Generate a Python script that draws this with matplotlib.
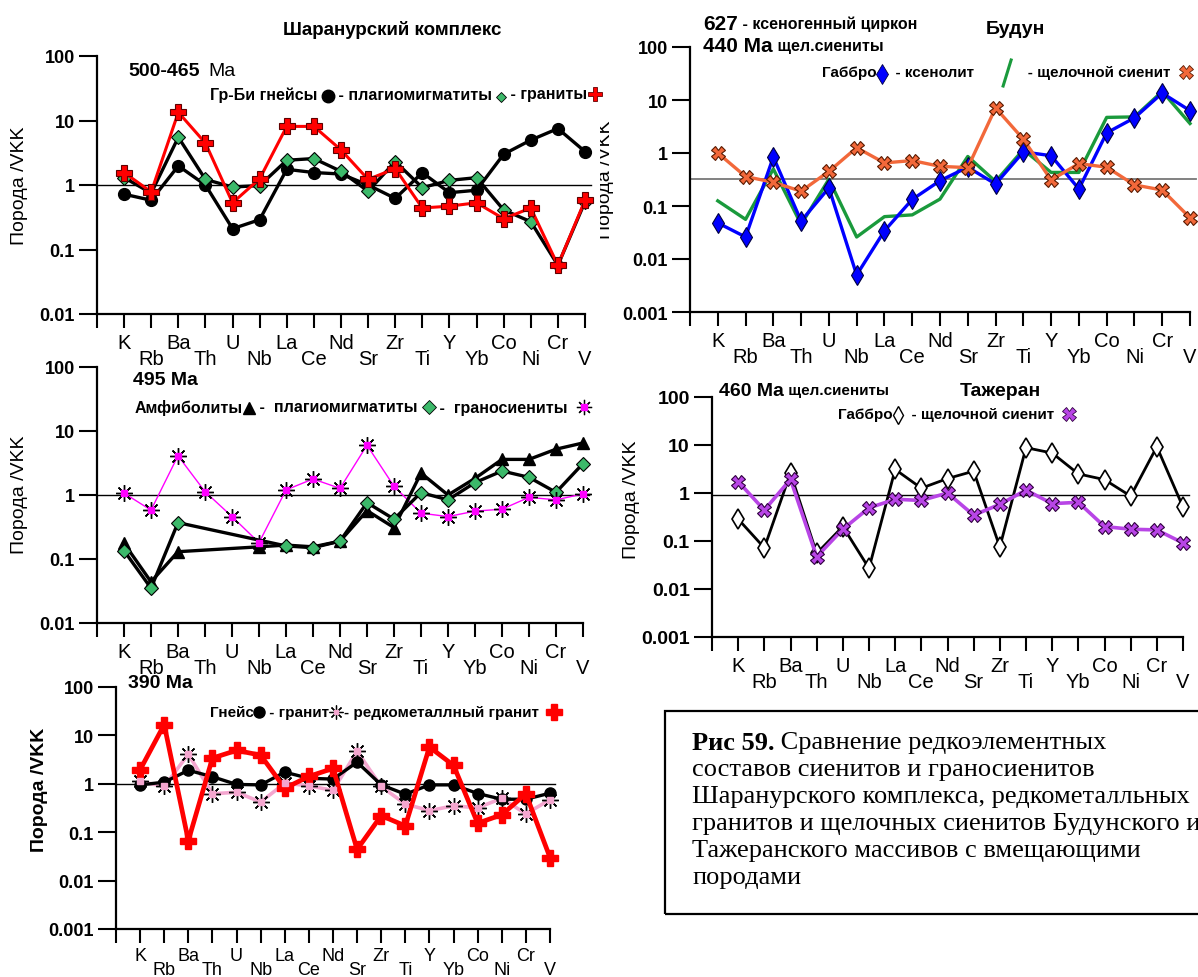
import numpy as np
import matplotlib
matplotlib.use("Agg")
import matplotlib.pyplot as plt
from matplotlib.lines import Line2D
from matplotlib.patches import Rectangle
from matplotlib.transforms import Bbox, TransformedBbox

plt.rcParams["font.family"] = ["Liberation Sans Narrow", "Liberation Sans", "DejaVu Sans"]

W, H = 1198, 978
nan = np.nan

elements = ["K", "Rb", "Ba", "Th", "U", "Nb", "La", "Ce", "Nd", "Sr",
            "Zr", "Ti", "Y", "Yb", "Co", "Ni", "Cr", "V"]

# Шаранурский комплекс, 500-465 Ma
shar_gneiss = [0.72, 0.58, 1.98, 1.0, 0.21, 0.29, 1.75, 1.56, 1.48, 1.0,
               0.62, 1.55, 0.76, 0.83, 3.0, 4.97, 7.5, 3.3]
shar_migm = [1.3, 0.75, 5.5, 1.22, 0.93, 0.98, 2.42, 2.57, 1.63, 0.8,
             2.31, 0.91, 1.18, 1.3, 0.41, 0.27, 0.057, 0.55]
shar_granite = [1.56, 0.78, 13.4, 4.46, 0.53, 1.25, 8.1, 8.1, 3.5, 1.22,
                1.8, 0.44, 0.47, 0.53, 0.30, 0.44, 0.057, 0.58]

# Будун
bud_gabbro = [0.048, 0.026, 0.84, 0.052, 0.22, 0.005, 0.034, 0.133, 0.30, 0.54,
              0.26, 1.05, 0.89, 0.21, 2.4, 4.6, 13.5, 6.3]
bud_xenolith = [0.125, 0.056, 0.5, 0.045, 0.32, 0.026, 0.063, 0.068, 0.135, 0.86,
                0.29, 1.16, 0.43, 0.43, 4.7, 4.8, 14.5, 3.6]
bud_syenite = [1.0, 0.36, 0.28, 0.19, 0.45, 1.26, 0.65, 0.72, 0.56, 0.53,
               7.1, 1.82, 0.31, 0.63, 0.54, 0.25, 0.2, 0.06]
bud_ref = 0.32

# 495 Ma
c_amph = [0.176, 0.044, 0.13, nan, nan, 0.155, 0.165, 0.155, 0.19, 0.57,
          0.31, 2.2, 1.0, 1.82, 3.6, 3.6, 5.2, 6.5]
c_migm = [0.135, 0.035, 0.37, nan, nan, nan, 0.16, 0.15, 0.19, 0.76,
          0.42, 1.09, 0.84, 1.56, 2.37, 1.89, 1.1, 3.1]
c_granosyen = [1.07, 0.58, 4.1, 1.13, 0.46, 0.18, 1.2, 1.78, 1.27, 6.0,
               1.37, 0.52, 0.46, 0.56, 0.6, 0.92, 0.84, 1.04]

# Тажеран
taz_gabbro = [0.286, 0.072, 2.6, 0.055, 0.2, 0.027, 3.1, 1.26, 2.0, 2.85,
              0.075, 8.8, 6.8, 2.5, 1.9, 0.86, 9.2, 0.51]
taz_syenite = [1.73, 0.44, 1.93, 0.047, 0.176, 0.49, 0.74, 0.7, 1.0, 0.345,
               0.58, 1.15, 0.6, 0.64, 0.2, 0.176, 0.17, 0.091]
taz_ref = 0.92

# 390 Ma
e_gneiss = [0.95, 1.08, 1.9, 1.4, 0.97, 0.95, 1.74, 1.3, 1.25, 2.8,
            0.95, 0.61, 0.95, 0.95, 0.63, 0.48, 0.48, 0.64]
e_granite = [1.12, 0.88, 4.1, 0.62, 0.67, 0.42, 1.03, 0.91, 0.73, 4.7,
             0.88, 0.38, 0.28, 0.35, 0.32, 0.5, 0.24, 0.47]
e_raremetal = [1.95, 16.7, 0.067, 3.4, 4.9, 3.9, 0.81, 1.42, 2.08, 0.044,
               0.22, 0.135, 5.76, 2.4, 0.153, 0.23, 0.62, 0.03]
e_ref = 0.97

GREEN = "#3cb96a"
RED = "#ff0000"
ORANGE = "#f2683a"
VIOLET = "#b845e6"
MAGENTA = "#ff00ff"
PINK = "#f4a6cf"

fig = plt.figure(figsize=(W / 100, H / 100), dpi=100)
renderer = fig.canvas.get_renderer()
x = np.arange(len(elements))


def fx(px):
    return px / W


def fy(py):
    return 1 - py / H


def add_panel(left, right, top, bottom, ymin, tick_size=13, el_size=14.5, rows=(14, 25)):
    ax = fig.add_axes([fx(left), fy(bottom), (right - left) / W, (bottom - top) / H])
    ax.set_yscale("log")
    ax.set_ylim(ymin, 100)
    ax.set_xlim(-1, 17)
    for s in ("top", "right"):
        ax.spines[s].set_visible(False)
    for s in ("left", "bottom"):
        ax.spines[s].set_linewidth(1.6)
    decades = [10.0 ** k for k in range(int(round(np.log10(ymin))), 3)]
    ax.set_yticks(decades)
    ax.set_yticklabels([("%g" % d) for d in decades], fontweight="bold",
                       fontsize=tick_size, family="Liberation Sans")
    ax.yaxis.set_minor_locator(matplotlib.ticker.NullLocator())
    ax.tick_params(axis="y", length=13, width=1.5, pad=3)
    ax.set_xticks(np.arange(-1, 18))
    ax.set_xticklabels([])
    ax.tick_params(axis="x", length=10, width=1.5)
    # element names in two staggered rows
    for i, el in enumerate(elements):
        dy = rows[i % 2]
        ax.annotate(el, xy=(i, 0), xycoords=("data", "axes fraction"),
                    xytext=(0, -dy), textcoords="offset points",
                    ha="center", va="top", fontsize=el_size)
    return ax


def ref_line(ax, val, color="black", lw=1.0):
    ax.axhline(val, xmin=0, xmax=1.012, color=color, lw=lw, clip_on=False, zorder=1)


def legend_row(x0, y0, items, size=11):
    """Text pieces and marker symbols laid out left to right (pixel coords)."""
    cur = x0
    for it in items:
        if isinstance(it, (str, tuple)):
            txt, sz = (it, size) if isinstance(it, str) else it
            t = fig.text(fx(cur), fy(y0), txt, fontsize=sz, fontweight="bold",
                         ha="left", va="center")
            cur += t.get_window_extent(renderer).width
        else:
            kw = dict(it)
            w = kw.pop("w", 14)
            dy = kw.pop("dy", 0)
            over = kw.pop("overlay", None)
            if kw.pop("slash", False):
                fig.add_artist(Line2D([fx(cur + 4), fx(cur + 12)], [fy(y0 + 14), fy(y0 - 12)],
                                      transform=fig.transFigure, color=kw["color"], lw=2.2))
            else:
                fig.add_artist(Line2D([fx(cur + w / 2)], [fy(y0 + dy)],
                                      transform=fig.transFigure, linestyle="none", **kw))
                if over:
                    fig.add_artist(Line2D([fx(cur + w / 2)], [fy(y0 + dy)],
                                          transform=fig.transFigure, linestyle="none", **over))
            cur += w


def star(ax, vals, face, size=12):
    ax.plot(x, vals, linestyle="none", marker=(8, 2, 0), ms=size, mec="black",
            mew=1.0, clip_on=False, zorder=4)
    ax.plot(x, vals, linestyle="none", marker="s", ms=size * 0.38, mfc=face,
            mec=face, clip_on=False, zorder=5)


def ylabel(px, py, bold=False, clip_left=None):
    t = fig.text(fx(px), fy(py), "Порода /VKK", rotation=90, fontsize=14,
                 fontweight="bold" if bold else "normal",
                 ha="center", va="center", family="Liberation Sans")
    if clip_left is not None:
        t.set_clip_box(TransformedBbox(Bbox.from_extents(fx(clip_left), 0, 1, 1),
                                       fig.transFigure))
        t.set_clip_on(True)
    return t


# ---- Шаранурский комплекс ----
axA = add_panel(97, 585, 57, 315, 0.01)
ref_line(axA, 1.0)
axA.plot(x, shar_gneiss, color="black", lw=2.4, marker="o", ms=8.5, mfc="black",
         mec="black", clip_on=False, zorder=3)
axA.plot(x, shar_migm, color="black", lw=2.4, marker="D", ms=7.5, mfc=GREEN,
         mec="black", mew=0.8, clip_on=False, zorder=3)
axA.plot(x, shar_granite, color=RED, lw=2.2, marker="P", ms=11, mfc=RED,
         mec="#600000", mew=0.8, clip_on=False, zorder=4)
fig.text(fx(392), fy(30), "Шаранурский комплекс", fontsize=13.5, fontweight="bold",
         ha="center", va="center")
legend_row(128, 72, ["500-465"], size=14)
fig.text(fx(208), fy(72), "Ma", fontsize=14, ha="left", va="center")
legend_row(210, 95, ["Гр-Би гнейсы ",
                     dict(marker="o", ms=9, color="black", w=12, dy=2),
                     " - плагиомигматиты ",
                     dict(marker="D", ms=5, mfc=GREEN, mec="black", mew=0.6, w=10, dy=3),
                     " - граниты",
                     dict(marker="P", ms=10, mfc=RED, mec="#600000", mew=0.6, w=14)],
           size=11.5)
ylabel(20, 186)

# ---- Будун ----
axB = add_panel(690, 1190, 48, 313, 0.001)
ref_line(axB, bud_ref, color="#777777", lw=1.3)
axB.plot(x, bud_xenolith, color="#1a9a3c", lw=2.4, clip_on=False, zorder=3)
axB.plot(x, bud_gabbro, color="#0000ff", lw=2.4, marker="d", ms=10, mfc="#0000ff",
         mec="#000040", mew=0.8, clip_on=False, zorder=4)
axB.plot(x, bud_syenite, color=ORANGE, lw=2.4, marker="X", ms=10, mfc=ORANGE,
         mec="#5a1a00", mew=0.8, clip_on=False, zorder=5)
fig.text(fx(1015), fy(30), "Будун", fontsize=14, fontweight="bold", ha="center", va="center")
legend_row(703, 24, [("627", 15), " - ксеногенный циркон"], size=11.5)
legend_row(703, 47, [("440 Ma", 15), " щел.сиениты"], size=11.5)
legend_row(822, 73, ["Габбро",
                     dict(marker="d", ms=10, mfc="#0000ff", mec="#000040", mew=0.6, w=10, dy=2),
                     "  - ксенолит      ",
                     dict(slash=True, color="#1a9a3c", w=16),
                     "   - щелочной сиенит  ",
                     dict(marker="X", ms=10, mfc=ORANGE, mec="#5a1a00", mew=0.6, w=14)])
ylabel(606, 180, clip_left=600)

# ---- 495 Ma ----
axC = add_panel(97, 583, 368, 624, 0.01)
ref_line(axC, 1.0)
axC.plot(x, c_granosyen, color=MAGENTA, lw=1.0, clip_on=False, zorder=2)
star(axC, c_granosyen, MAGENTA)
m_amph = ~np.isnan(c_amph)
axC.plot(x[m_amph], np.array(c_amph)[m_amph], color="black", lw=2.4, marker="^", ms=8,
         mfc="black", mec="black", clip_on=False, zorder=3)
m_migm = ~np.isnan(c_migm)
axC.plot(x[m_migm], np.array(c_migm)[m_migm], color="black", lw=2.4, marker="D", ms=7.5,
         mfc=GREEN, mec="black", mew=0.8, clip_on=False, zorder=3)
legend_row(133, 381, ["495 Ma"], size=14)
legend_row(135, 408, ["Амфиболиты",
                      dict(marker="^", ms=8, color="black", w=12, dy=1),
                      " -  плагиомигматиты ",
                      dict(marker="D", ms=7, mfc=GREEN, mec="black", mew=0.6, w=13),
                      " -  граносиениты  ",
                      dict(marker=(8, 2, 0), ms=11, mec="black", mew=0.9, w=14,
                           overlay=dict(marker="s", ms=4, mfc=MAGENTA, mec=MAGENTA))],
           size=11.5)
ylabel(20, 495)

# ---- Тажеран ----
axD = add_panel(712, 1183, 398, 638, 0.001, tick_size=14)
ref_line(axD, taz_ref)
axD.plot(x, taz_gabbro, color="black", lw=2.0, marker="d", ms=10, mfc="white",
         mec="black", mew=1.2, clip_on=False, zorder=3)
axD.plot(x, taz_syenite, color=VIOLET, lw=2.6, marker="X", ms=10, mfc=VIOLET,
         mec="#300040", mew=0.8, clip_on=False, zorder=4)
fig.text(fx(1000), fy(391), "Тажеран", fontsize=14, fontweight="bold", ha="center", va="center")
legend_row(719, 391, [("460 Ma", 14), " щел.сиениты"], size=11)
legend_row(838, 415, ["Габбро",
                      dict(marker="d", ms=9, mfc="white", mec="black", mew=1.0, w=10, dy=1),
                      "  - щелочной сиенит  ",
                      dict(marker="X", ms=10, mfc=VIOLET, mec="#300040", mew=0.6, w=14)])
ylabel(632, 500)

# ---- 390 Ma ----
axE = add_panel(116, 550, 688, 930, 0.001, el_size=13, rows=(13, 23))
ref_line(axE, e_ref)
axE.plot(x, e_granite, color=PINK, lw=2.6, clip_on=False, zorder=2)
star(axE, e_granite, PINK, size=12)
axE.plot(x, e_gneiss, color="black", lw=2.4, marker="o", ms=8, mfc="black", mec="black",
         clip_on=False, zorder=3)
axE.plot(x, e_raremetal, color=RED, lw=3.4, marker="P", ms=11, mfc=RED, mec=RED,
         clip_on=False, zorder=4)
legend_row(128, 683, ["390 Ma"], size=14)
legend_row(210, 713, ["Гнейс",
                      dict(marker="o", ms=8, color="black", w=11),
                      " - гранит",
                      dict(marker=(8, 2, 0), ms=10, mec="black", mew=0.9, w=15,
                           overlay=dict(marker="s", ms=3.5, mfc=PINK, mec=PINK)),
                      "- редкометаллный гранит  ",
                      dict(marker="P", ms=11, mfc=RED, mec=RED, w=14)])
ylabel(40, 790, bold=True)

# ---- caption ----
fig.add_artist(Rectangle((fx(665), fy(915)), fx(560), 203 / H, transform=fig.transFigure,
                         fill=False, ec="black", lw=1.6))
caption = ["составов сиенитов и граносиенитов",
           "Шаранурского комплекса, редкометалльных",
           "гранитов и щелочных сиенитов Будунского и",
           "Тажеранского массивов с вмещающими",
           "породами"]
cap_size = 19
t0 = fig.text(fx(692), fy(743), "Рис 59.", fontsize=cap_size, fontweight="bold",
              family="Liberation Serif", ha="left", va="center")
w0 = t0.get_window_extent(renderer).width
fig.text(fx(692 + w0), fy(743), " Сравнение редкоэлементных", fontsize=cap_size,
         family="Liberation Serif", ha="left", va="center")
for k, line in enumerate(caption):
    fig.text(fx(692), fy(770 + 27 * k), line, fontsize=cap_size, family="Liberation Serif",
             ha="left", va="center")

fig.savefig("out.png", dpi=100)
